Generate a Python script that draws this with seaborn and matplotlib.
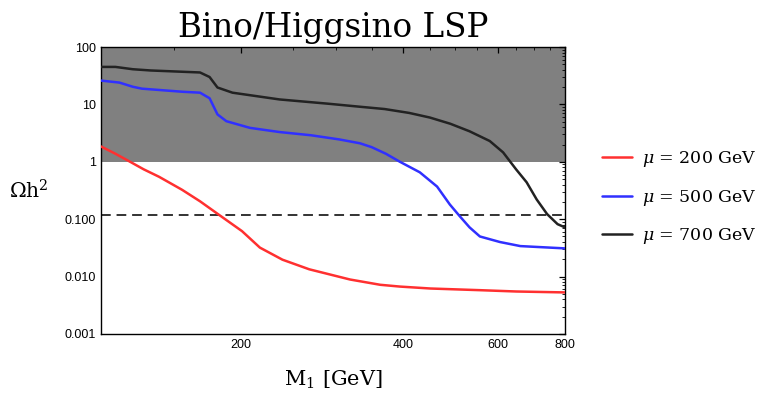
import numpy as np
import pandas as pd
import matplotlib
matplotlib.use("Agg")
import matplotlib.pyplot as plt
import seaborn as sns

# ---- data ----
m1_red = [110, 117, 124.6, 132, 141, 155.6, 168, 182, 201, 217, 239, 268, 319, 363, 395, 450, 556, 650, 800]
oh2_red = [1.85, 1.38, 1.0, 0.74, 0.548, 0.325, 0.205, 0.12, 0.062, 0.032, 0.0197, 0.0134, 0.0089, 0.0072, 0.0067, 0.0062, 0.0058, 0.0055, 0.0053]

m1_blue = [110, 119, 126, 131, 156, 168, 175, 181, 188, 208, 236, 270, 305, 333, 350, 372, 395, 430, 463, 489, 510, 532, 556, 606, 661, 800]
oh2_blue = [26, 24, 20.3, 18.8, 16.6, 16.0, 12.8, 6.7, 5.1, 3.9, 3.3, 2.9, 2.45, 2.1, 1.8, 1.38, 1.0, 0.656, 0.37, 0.18, 0.113, 0.072, 0.05, 0.04, 0.034, 0.031]

m1_black = [110, 117, 126, 136, 168, 175, 181, 193, 236, 290, 333, 370, 411, 449, 490, 532, 580, 614, 649, 679, 709, 741, 775, 800]
oh2_black = [45, 45, 41, 39, 36, 30, 19.7, 16, 12.2, 10.3, 9.1, 8.3, 7.1, 5.9, 4.6, 3.4, 2.3, 1.46, 0.74, 0.44, 0.22, 0.123, 0.082, 0.072]

series_labels = [r"$\mu$ = 200 GeV", r"$\mu$ = 500 GeV", r"$\mu$ = 700 GeV"]
relic = 0.12
excluded_lo, excluded_hi = 1, 100

x_ticks = [200, 400, 600, 800]
y_ticks = [0.001, 0.01, 0.1, 1, 10, 100]
y_ticklabels = ["0.001", "0.010", "0.100", "1", "10", "100"]

# ---- build frame ----
df = pd.concat([
    pd.DataFrame({"M1": m1_red, "oh2": oh2_red, "series": series_labels[0]}),
    pd.DataFrame({"M1": m1_blue, "oh2": oh2_blue, "series": series_labels[1]}),
    pd.DataFrame({"M1": m1_black, "oh2": oh2_black, "series": series_labels[2]}),
], ignore_index=True)

sns.set_style("white")
plt.rcParams["font.family"] = ["Liberation Sans", "DejaVu Sans"]
plt.rcParams["mathtext.fontset"] = "dejavuserif"
plt.rcParams["text.color"] = "black"
plt.rcParams["axes.labelcolor"] = "black"

fig = plt.figure(figsize=(7.67, 3.94), dpi=100)
ax = fig.add_axes([0.1317, 0.1523, 0.7366 - 0.1317, 0.8807 - 0.1523])

ax.axhspan(excluded_lo, excluded_hi, color="#808080", lw=0, zorder=0)
ax.axhline(relic, color="#333333", lw=1.4, dashes=(5, 3), zorder=1)

palette = {series_labels[0]: "#ff3030", series_labels[1]: "#3030ff", series_labels[2]: "#222222"}
sns.lineplot(data=df, x="M1", y="oh2", hue="series", palette=palette,
             lw=1.8, ax=ax, sort=False, estimator=None, zorder=3)
for ln in ax.get_lines():
    ln.set_solid_joinstyle("round")

ax.set_xscale("log")
ax.set_yscale("log")
ax.set_xlim(110, 800)
ax.set_ylim(0.001, 100)

ax.set_xticks(x_ticks)
ax.set_xticklabels([str(t) for t in x_ticks])
ax.set_xticks([v for v in range(150, 800, 50) if v not in x_ticks], minor=True)
ax.xaxis.set_minor_formatter(matplotlib.ticker.NullFormatter())
ax.set_yticks(y_ticks)
ax.set_yticklabels(y_ticklabels)

ax.tick_params(which="both", direction="in", top=True, right=True, labelsize=9, colors="black")
ax.tick_params(which="major", length=4, width=0.9)
ax.tick_params(which="minor", length=2, width=0.6)
for s in ax.spines.values():
    s.set_color("black")
    s.set_linewidth(1.0)

ax.set_xlabel(r"M$_1$ [GeV]", family="DejaVu Serif", fontsize=15, labelpad=13, color="black")
ax.set_ylabel(r"$\Omega$h$^2$", family="DejaVu Serif", fontsize=14.5, rotation=0, labelpad=26,
              va="center", color="black")
ax.set_title("Bino/Higgsino LSP", family="DejaVu Serif", fontsize=23.5, pad=7, color="black")

leg = ax.legend(loc="center left", bbox_to_anchor=(1.064, 0.475), frameon=False,
                prop={"family": "DejaVu Serif", "size": 12.5}, handlelength=1.75,
                handletextpad=0.55, labelspacing=1.05, borderaxespad=0.0)
for line in leg.get_lines():
    line.set_linewidth(1.8)

fig.savefig("out.png", dpi=100)
